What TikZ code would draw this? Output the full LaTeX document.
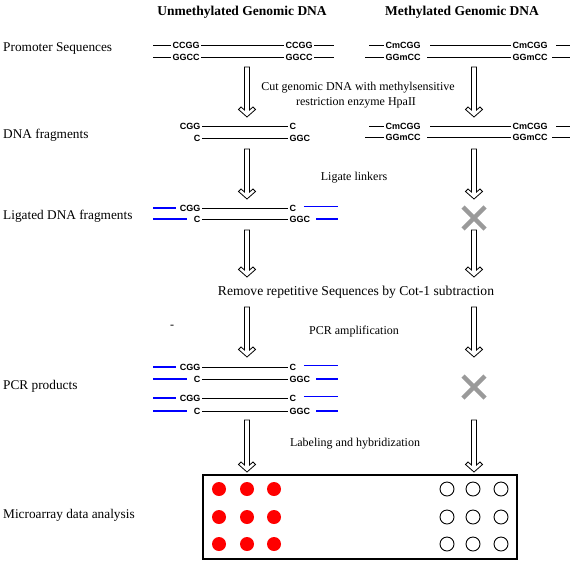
\documentclass[tikz,border=0pt]{standalone}
\usepackage{fontspec}
\setmainfont{Liberation Serif}
\newfontfamily\seqfont{Liberation Sans}
\definecolor{linkerblue}{HTML}{0000FF}
\definecolor{spotred}{HTML}{FF0000}
\definecolor{crossgray}{HTML}{9A9A9A}

\begin{document}
\begin{tikzpicture}[
  x=1pt,
  y=-1pt,
  strand/.style={draw=black,line width=1pt},
  linker/.style={draw=linkerblue,line width=1.2pt},
  seq/.style={font=\seqfont\bfseries\fontsize{9}{10}\selectfont,inner sep=1.5pt},
  rowlabel/.style={anchor=west,inner sep=0pt,font=\fontsize{13.3}{15}\selectfont},
  steplabel/.style={inner sep=0pt,font=\fontsize{12}{14}\selectfont},
  coltitle/.style={inner sep=0pt,font=\bfseries\fontsize{13.5}{15}\selectfont},
  cross/.style={draw=crossgray,line width=4.5pt},
  pics/hollowdown/.style={code={
    \draw[line width=0.8pt,fill=white] (-2.5,0) -- (2.5,0) -- (2.5,#1-7) -- (6,#1-10)
      -- (8.5,#1-7.5) -- (0,#1) -- (-8.5,#1-7.5) -- (-6,#1-10) -- (-2.5,#1-7) -- cycle;
  }}
]
  % Keep the frame of the original figure.
  \useasboundingbox (0,0) rectangle (575,563);

  % Column titles and row labels.
  \node[coltitle] (unmethtitle) at (242,12) {Unmethylated Genomic DNA};
  \node[coltitle] (methtitle) at (462,12) {Methylated Genomic DNA};
  \node[rowlabel] (promoterlbl) at (3,49) {Promoter Sequences};
  \node[rowlabel] (fragmentlbl) at (3,135) {DNA fragments};
  \node[rowlabel] (ligatedlbl) at (3,216) {Ligated DNA fragments};
  \node[rowlabel] (pcrlbl) at (3,386) {PCR products};
  \node[rowlabel] (arraylbl) at (3,515) {Microarray data analysis};

  % Step descriptions between the columns.
  \node[steplabel] (cutlbl) at (358,88) {Cut genomic DNA with methylsensitive};
  \node[steplabel] (hpalbl) at (356,103) {restriction enzyme HpaII};
  \node[steplabel] (ligatelbl) at (354,178) {Ligate linkers};
  \node[inner sep=0pt,font=\fontsize{13.6}{15}\selectfont] (removelbl) at (356,292) {Remove repetitive Sequences by Cot-1 subtraction};
  \node[steplabel] (dashlbl) at (172,327) {-};
  \node[steplabel] (pcrsteplbl) at (354,332) {PCR amplification};
  \node[steplabel] (labellbl) at (355,444) {Labeling and hybridization};

  % Unmethylated promoter: CCGG sites.
  \node[seq,anchor=west] (ccggTL) at (171,45) {CCGG};
  \node[seq,anchor=west] (ccggTR) at (284,45) {CCGG};
  \node[seq,anchor=west] (ggccBL) at (171,57) {GGCC};
  \node[seq,anchor=west] (ggccBR) at (284,57) {GGCC};
  \draw[strand] (153,45) -- (ccggTL.west);
  \draw[strand] (ccggTL.east) -- (ccggTR.west);
  \draw[strand] (ccggTR.east) -- (334,45);
  \draw[strand] (153,57) -- (ggccBL.west);
  \draw[strand] (ggccBL.east) -- (ggccBR.west);
  \draw[strand] (ggccBR.east) -- (334,57);

  % Methylated promoter and its uncut fragment.
  \foreach \ya/\yb [count=\k] in {45/57, 126/137} {
    \node[seq,anchor=west] (mcTL\k) at (384,\ya) {CmCGG};
    \node[seq,anchor=west] (mcTR\k) at (511,\ya) {CmCGG};
    \node[seq,anchor=west] (mcBL\k) at (384,\yb) {GGmCC};
    \node[seq,anchor=west] (mcBR\k) at (511,\yb) {GGmCC};
    \draw[strand] (369,\ya) -- (mcTL\k.west);
    \draw[strand] ([xshift=8pt]mcTL\k.east) -- (mcTR\k.west);
    \draw[strand] ([xshift=7pt]mcTR\k.east) -- (570,\ya);
    \draw[strand] (365,\yb) -- (mcBL\k.west);
    \draw[strand] ([xshift=5pt]mcBL\k.east) -- (mcBR\k.west);
    \draw[strand] ([xshift=3pt]mcBR\k.east) -- (570,\yb);
  }

  % Unmethylated fragment after HpaII cut.
  \node[seq,anchor=east] (cggF) at (202,126) {CGG};
  \node[seq,anchor=west] (cF) at (288,126) {C};
  \node[seq,anchor=east] (cbF) at (202,138) {C};
  \node[seq,anchor=west] (ggcF) at (288,138) {GGC};
  \draw[strand] (cggF.east) -- (cF.west);
  \draw[strand] (cbF.east) -- (ggcF.west);

  % Fragments with linkers (ligated row and both PCR products).
  \foreach \ya/\yb [count=\k] in {208/219, 367/379, 398/411} {
    \node[seq,anchor=east] (cggL\k) at (202,\ya) {CGG};
    \node[seq,anchor=west] (cL\k) at (288,\ya) {C};
    \node[seq,anchor=east] (cbL\k) at (202,\yb) {C};
    \node[seq,anchor=west] (ggcL\k) at (288,\yb) {GGC};
    \draw[strand] (cggL\k.east) -- (cL\k.west);
    \draw[strand] (cbL\k.east) -- (ggcL\k.west);
    \draw[linker] (153,\ya) -- ([xshift=-2pt]cggL\k.west);
    \draw[linker] ([xshift=6pt,yshift=1.5pt]cL\k.east) -- (338,\ya-1.5);
    \draw[linker] (153,\yb) -- ([xshift=-5pt]cbL\k.west);
    \draw[linker] ([xshift=4.5pt]ggcL\k.east) -- (338,\yb);
  }

  % Process arrows down both columns.
  \foreach \y/\len in {67/50, 149/50, 230/47, 307/50, 420/52} {
    \pic at (247,\y) {hollowdown=\len};
    \pic at (474,\y) {hollowdown=\len};
  }

  % Methylated DNA gets no linkers.
  \coordinate (noligate) at (474,218);
  \coordinate (noproduct) at (474,387);
  \draw[cross] ([shift={(-11,-11)}]noligate) -- ([shift={(11,11)}]noligate);
  \draw[cross] ([shift={(-11,11)}]noligate) -- ([shift={(11,-11)}]noligate);
  \draw[cross] ([shift={(-11,-11)}]noproduct) -- ([shift={(11,11)}]noproduct);
  \draw[cross] ([shift={(-11,11)}]noproduct) -- ([shift={(11,-11)}]noproduct);

  % Microarray chip.
  \draw[line width=1.3pt] (203,475) rectangle (517,559);
  \foreach \x in {219,247,274}
    \foreach \y in {489,517,544}
      \fill[spotred] (\x,\y) circle[radius=7pt];
  \foreach \x in {447,473,501}
    \foreach \y in {489,517,544}
      \draw[line width=0.9pt] (\x,\y) circle[radius=7pt];
\end{tikzpicture}
\end{document}
